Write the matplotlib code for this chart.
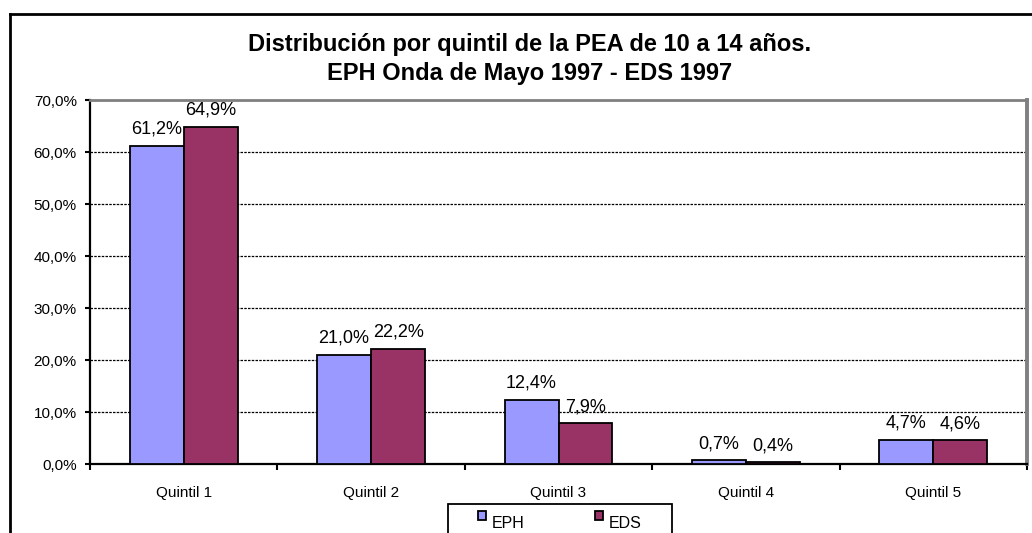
import numpy as np
import matplotlib.pyplot as plt
from matplotlib.lines import Line2D
from matplotlib.patches import Rectangle
from matplotlib.ticker import FuncFormatter

plt.rcParams['font.family'] = ['Liberation Sans', 'DejaVu Sans']

categorias = ['Quintil 1', 'Quintil 2', 'Quintil 3', 'Quintil 4', 'Quintil 5']
eph = [61.2, 21.0, 12.4, 0.7, 4.7]
eds = [64.9, 22.2, 7.9, 0.4, 4.6]
series = ['EPH', 'EDS']

W, H = 1032, 533
fig = plt.figure(figsize=(W/100, H/100), dpi=100)
ax = fig.add_axes([90/W, 1-464/H, (1027-90)/W, (464-100)/H])

x = np.arange(len(categorias))
w = 0.288
b1 = ax.bar(x - w/2, eph, w, color='#9999FF', edgecolor='black', linewidth=1.3, label=series[0], zorder=3)
b2 = ax.bar(x + w/2, eds, w, color='#993366', edgecolor='black', linewidth=1.3, label=series[1], zorder=3)

def fmt(v):
    return ('%.1f%%' % v).replace('.', ',')

for bars, vals in ((b1, eph), (b2, eds)):
    for r, v in zip(bars, vals):
        ax.annotate(fmt(v), (r.get_x() + r.get_width()/2, v), xytext=(0, 8.5),
                    textcoords='offset points', ha='center', va='baseline', fontsize=13)

ax.set_ylim(0, 70)
ax.set_xlim(-0.5, 4.5)
ax.set_yticks(np.arange(0, 71, 10))
ax.yaxis.set_major_formatter(FuncFormatter(lambda v, p: fmt(v)))
ax.set_xticks(x)
ax.set_xticklabels(categorias)
ax.set_xticks(np.arange(-0.5, 5, 1), minor=True)
ax.tick_params(axis='x', which='major', length=0, labelsize=11, pad=16)
ax.tick_params(axis='x', which='minor', length=4, width=1.5, direction='out')
ax.tick_params(axis='y', length=3.5, width=1.5, labelsize=11, pad=6)
ax.grid(axis='y', color='black', linestyle=(0, (2, 1)), linewidth=0.9, zorder=0)
ax.spines['left'].set_linewidth(1.6)
ax.spines['bottom'].set_linewidth(1.6)
ax.spines['top'].set_color('#808080')
ax.spines['top'].set_linewidth(2)
ax.spines['right'].set_color('#808080')
ax.spines['right'].set_linewidth(2.8)

fig.text(530/W, 1-51/H, 'Distribución por quintil de la PEA de 10 a 14 años.',
         ha='center', va='baseline', fontsize=17, fontweight='bold')
fig.text(530/W, 1-80/H, 'EPH Onda de Mayo 1997 - EDS 1997',
         ha='center', va='baseline', fontsize=17, fontweight='bold')

# marco exterior
fig.add_artist(Line2D([10/W, 10/W], [0, 1-14/H], color='black', linewidth=2))
fig.add_artist(Line2D([10/W, 1], [1-14/H, 1-14/H], color='black', linewidth=2))

# leyenda
fig.add_artist(Rectangle((448/W, -0.01), (672-448)/W, 0.01 + 1-504/H, transform=fig.transFigure,
                         facecolor='white', edgecolor='black', linewidth=1.3, zorder=1))
leg = fig.legend(loc='center', bbox_to_anchor=(560/W, 1-517/H), ncol=2, fontsize=11.5,
                 frameon=False, handlelength=0.5, handleheight=0.5,
                 columnspacing=4.4, borderpad=0, handletextpad=0.35)
leg.set_zorder(2)
for t in leg.get_texts():
    t.set_y(-6)

fig.savefig('out.png', dpi=100)
